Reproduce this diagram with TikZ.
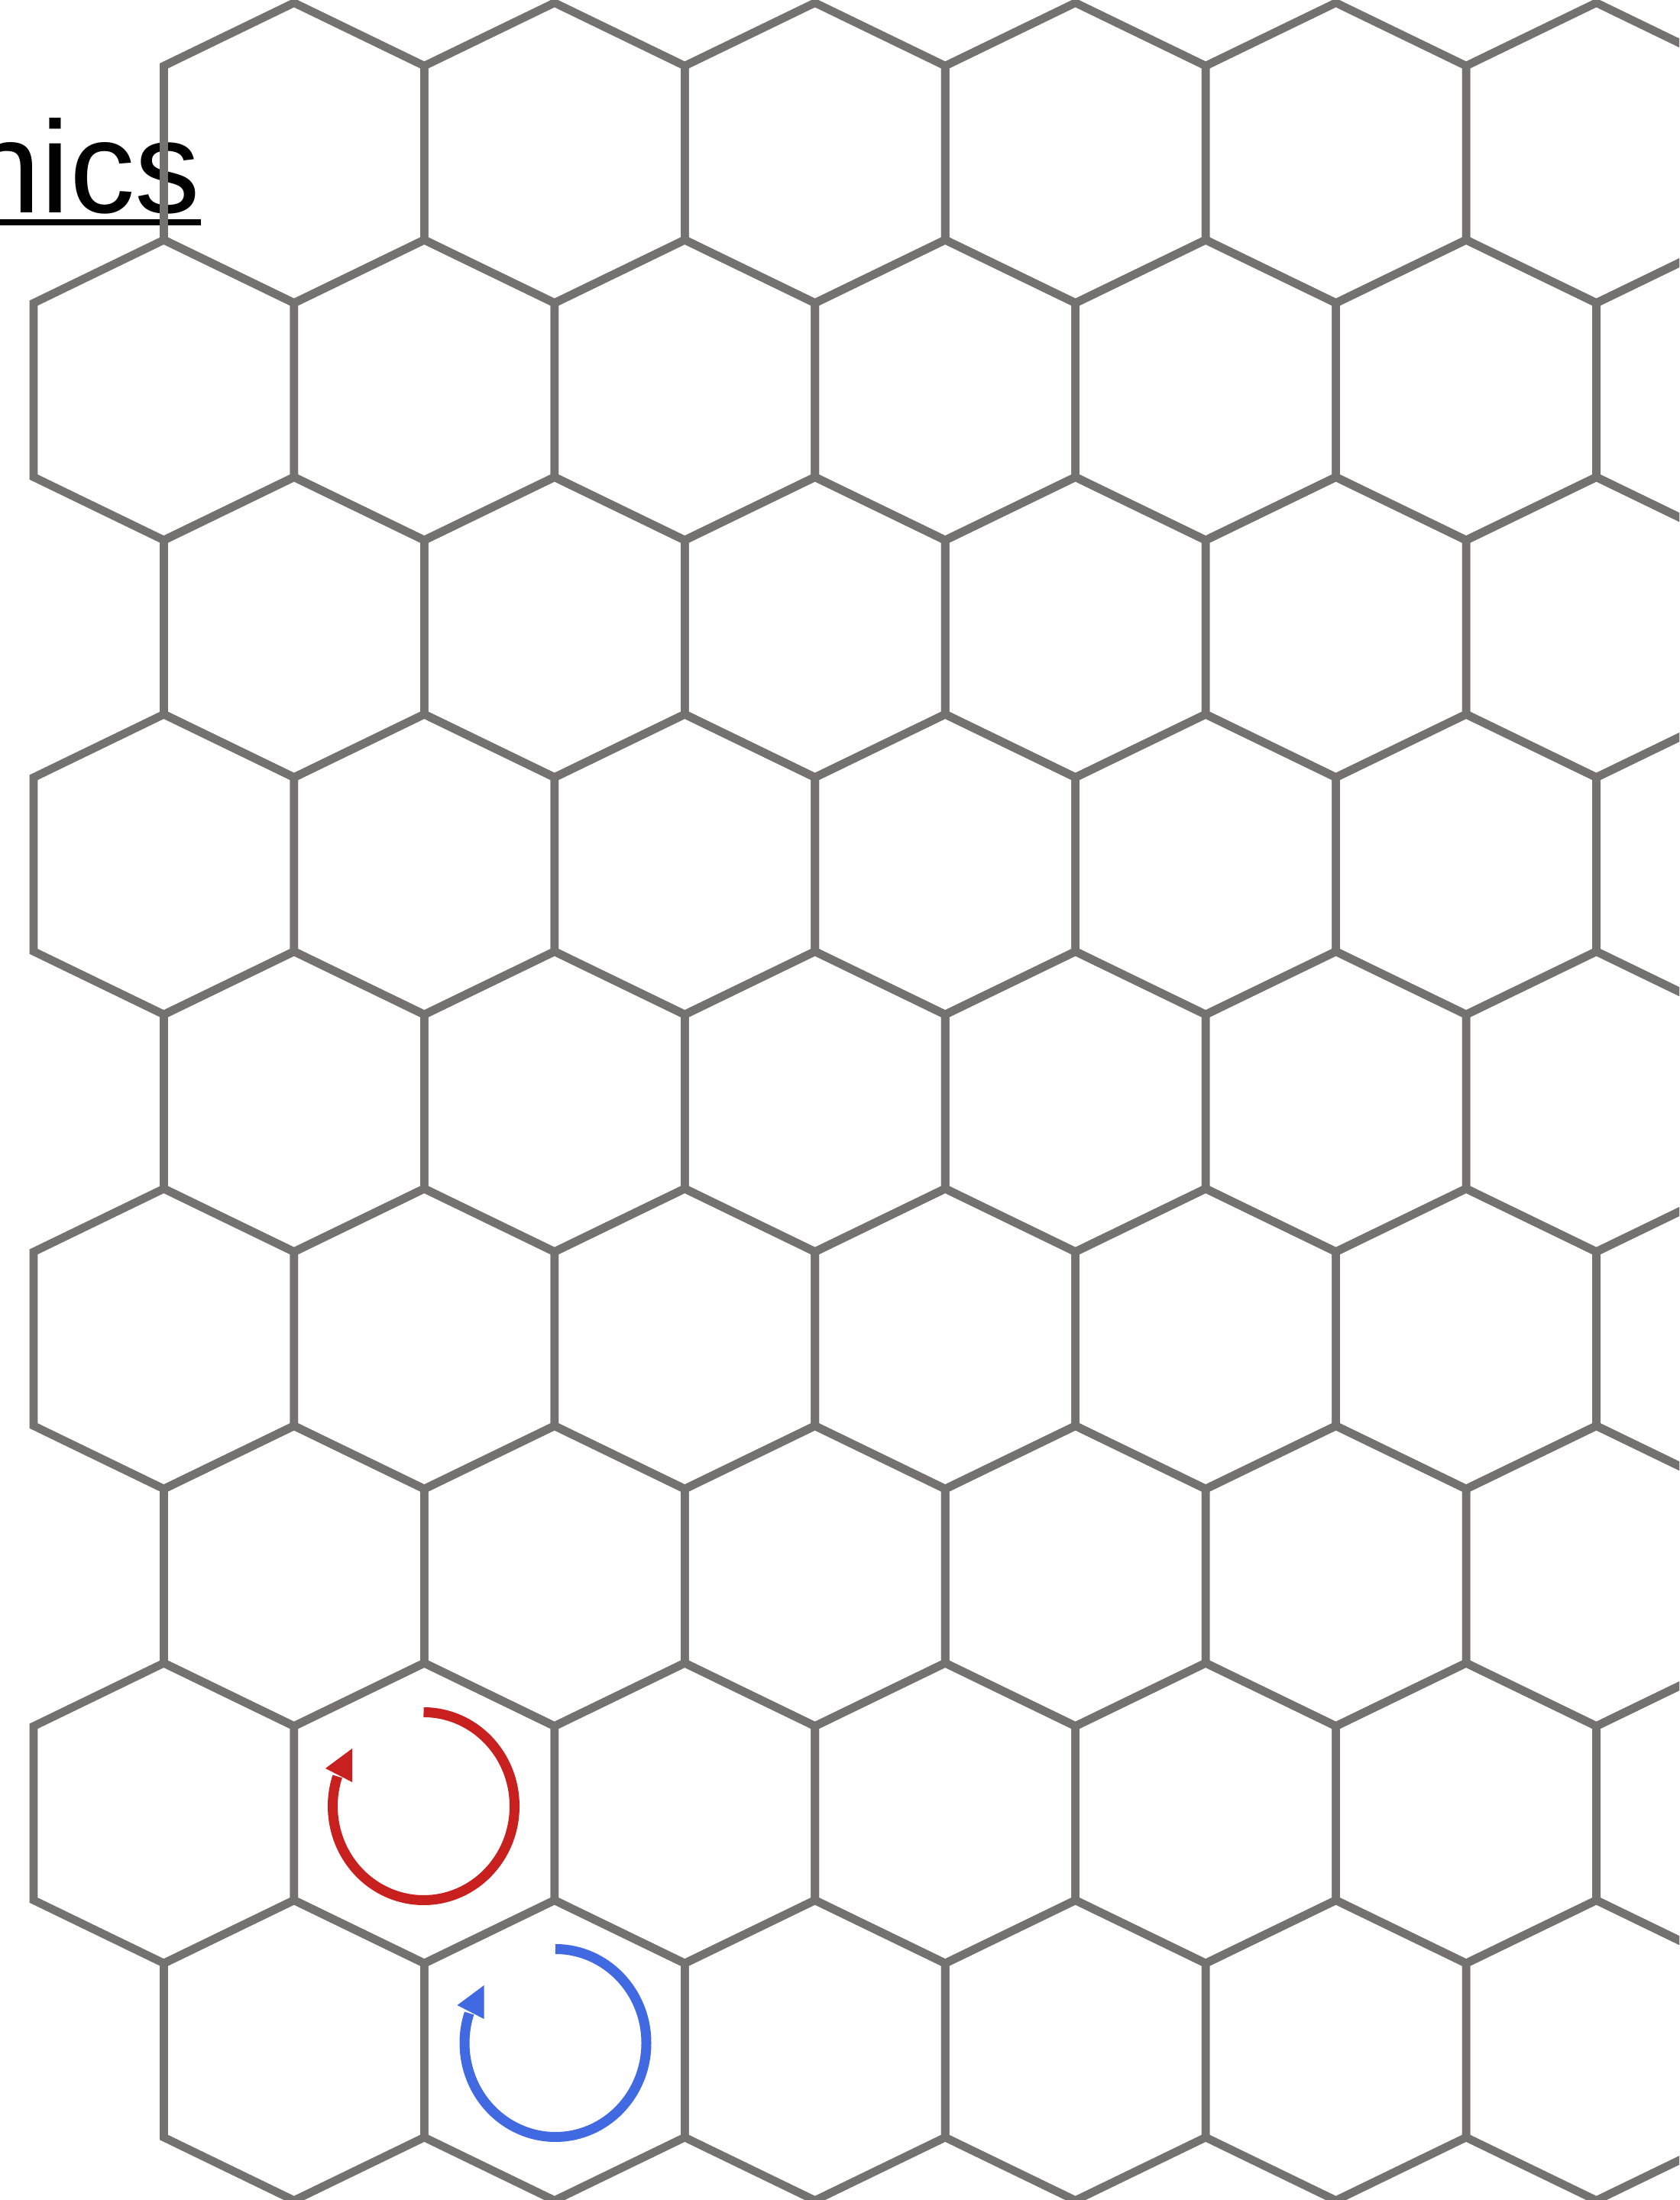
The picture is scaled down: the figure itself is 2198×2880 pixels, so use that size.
\documentclass[tikz,border=0pt]{standalone}
\usepackage{fontspec}
\setmainfont{Liberation Sans}
\definecolor{hexgray}{RGB}{118,113,113}
\definecolor{loopred}{RGB}{200,32,30}
\definecolor{loopblue}{RGB}{65,105,225}
\begin{document}
\begin{tikzpicture}[x=0.25pt,y=0.25pt,
  hexline/.style={draw=hexgray,line width=2.65pt,line join=miter},
  loopline/.style={line width=3.25pt},
]
\useasboundingbox (0,0) rectangle (2198,2880);
\clip (0,0) rectangle (2198,2880);
\fill[white] (0,0) rectangle (2198,2880);
% title fragment
\node[anchor=base east,inner sep=0pt,font=\fontsize{42.75}{50}\selectfont] (title) at (263,2601.7) {nics};
\draw[line width=1.93pt] (-10,2588.8) -- (263,2588.8);
% honeycomb
\foreach \k in {0,...,8}{
  \pgfmathsetmacro\yu{2793.7-310.5*\k}
  \pgfmathsetmacro\yl{\yu-227.7}
  \pgfmathsetmacro\ya{\yu+82.6}
  \pgfmathsetmacro\yb{\yl-82.6}
  \pgfmathtruncatemacro\rowodd{mod(\k,2)}
  \foreach \m in {0,...,6}{
    \pgfmathsetmacro\cx{44+170.46*(2*\m+2-\rowodd)}
    \pgfmathsetmacro\xl{\cx-170.46}
    \pgfmathsetmacro\xr{\cx+170.46}
    \draw[hexline] (\cx,\ya) -- (\xr,\yu) -- (\xr,\yl) -- (\cx,\yb) -- (\xl,\yl) -- (\xl,\yu) -- cycle;
  }
}
% red circulation
\draw[loopline,draw=loopred] (554.5,638.5) arc[start angle=90,end angle=-198.5,x radius=119,y radius=123];
\fill[loopred] (426,565) -- (461,591) -- (461,547) -- cycle;
% blue circulation
\begin{scope}[shift={(172.5,-310)}]
\draw[loopline,draw=loopblue] (554.5,638.5) arc[start angle=90,end angle=-198.5,x radius=119,y radius=123];
\fill[loopblue] (426,565) -- (461,591) -- (461,547) -- cycle;
\end{scope}
\end{tikzpicture}
\end{document}
